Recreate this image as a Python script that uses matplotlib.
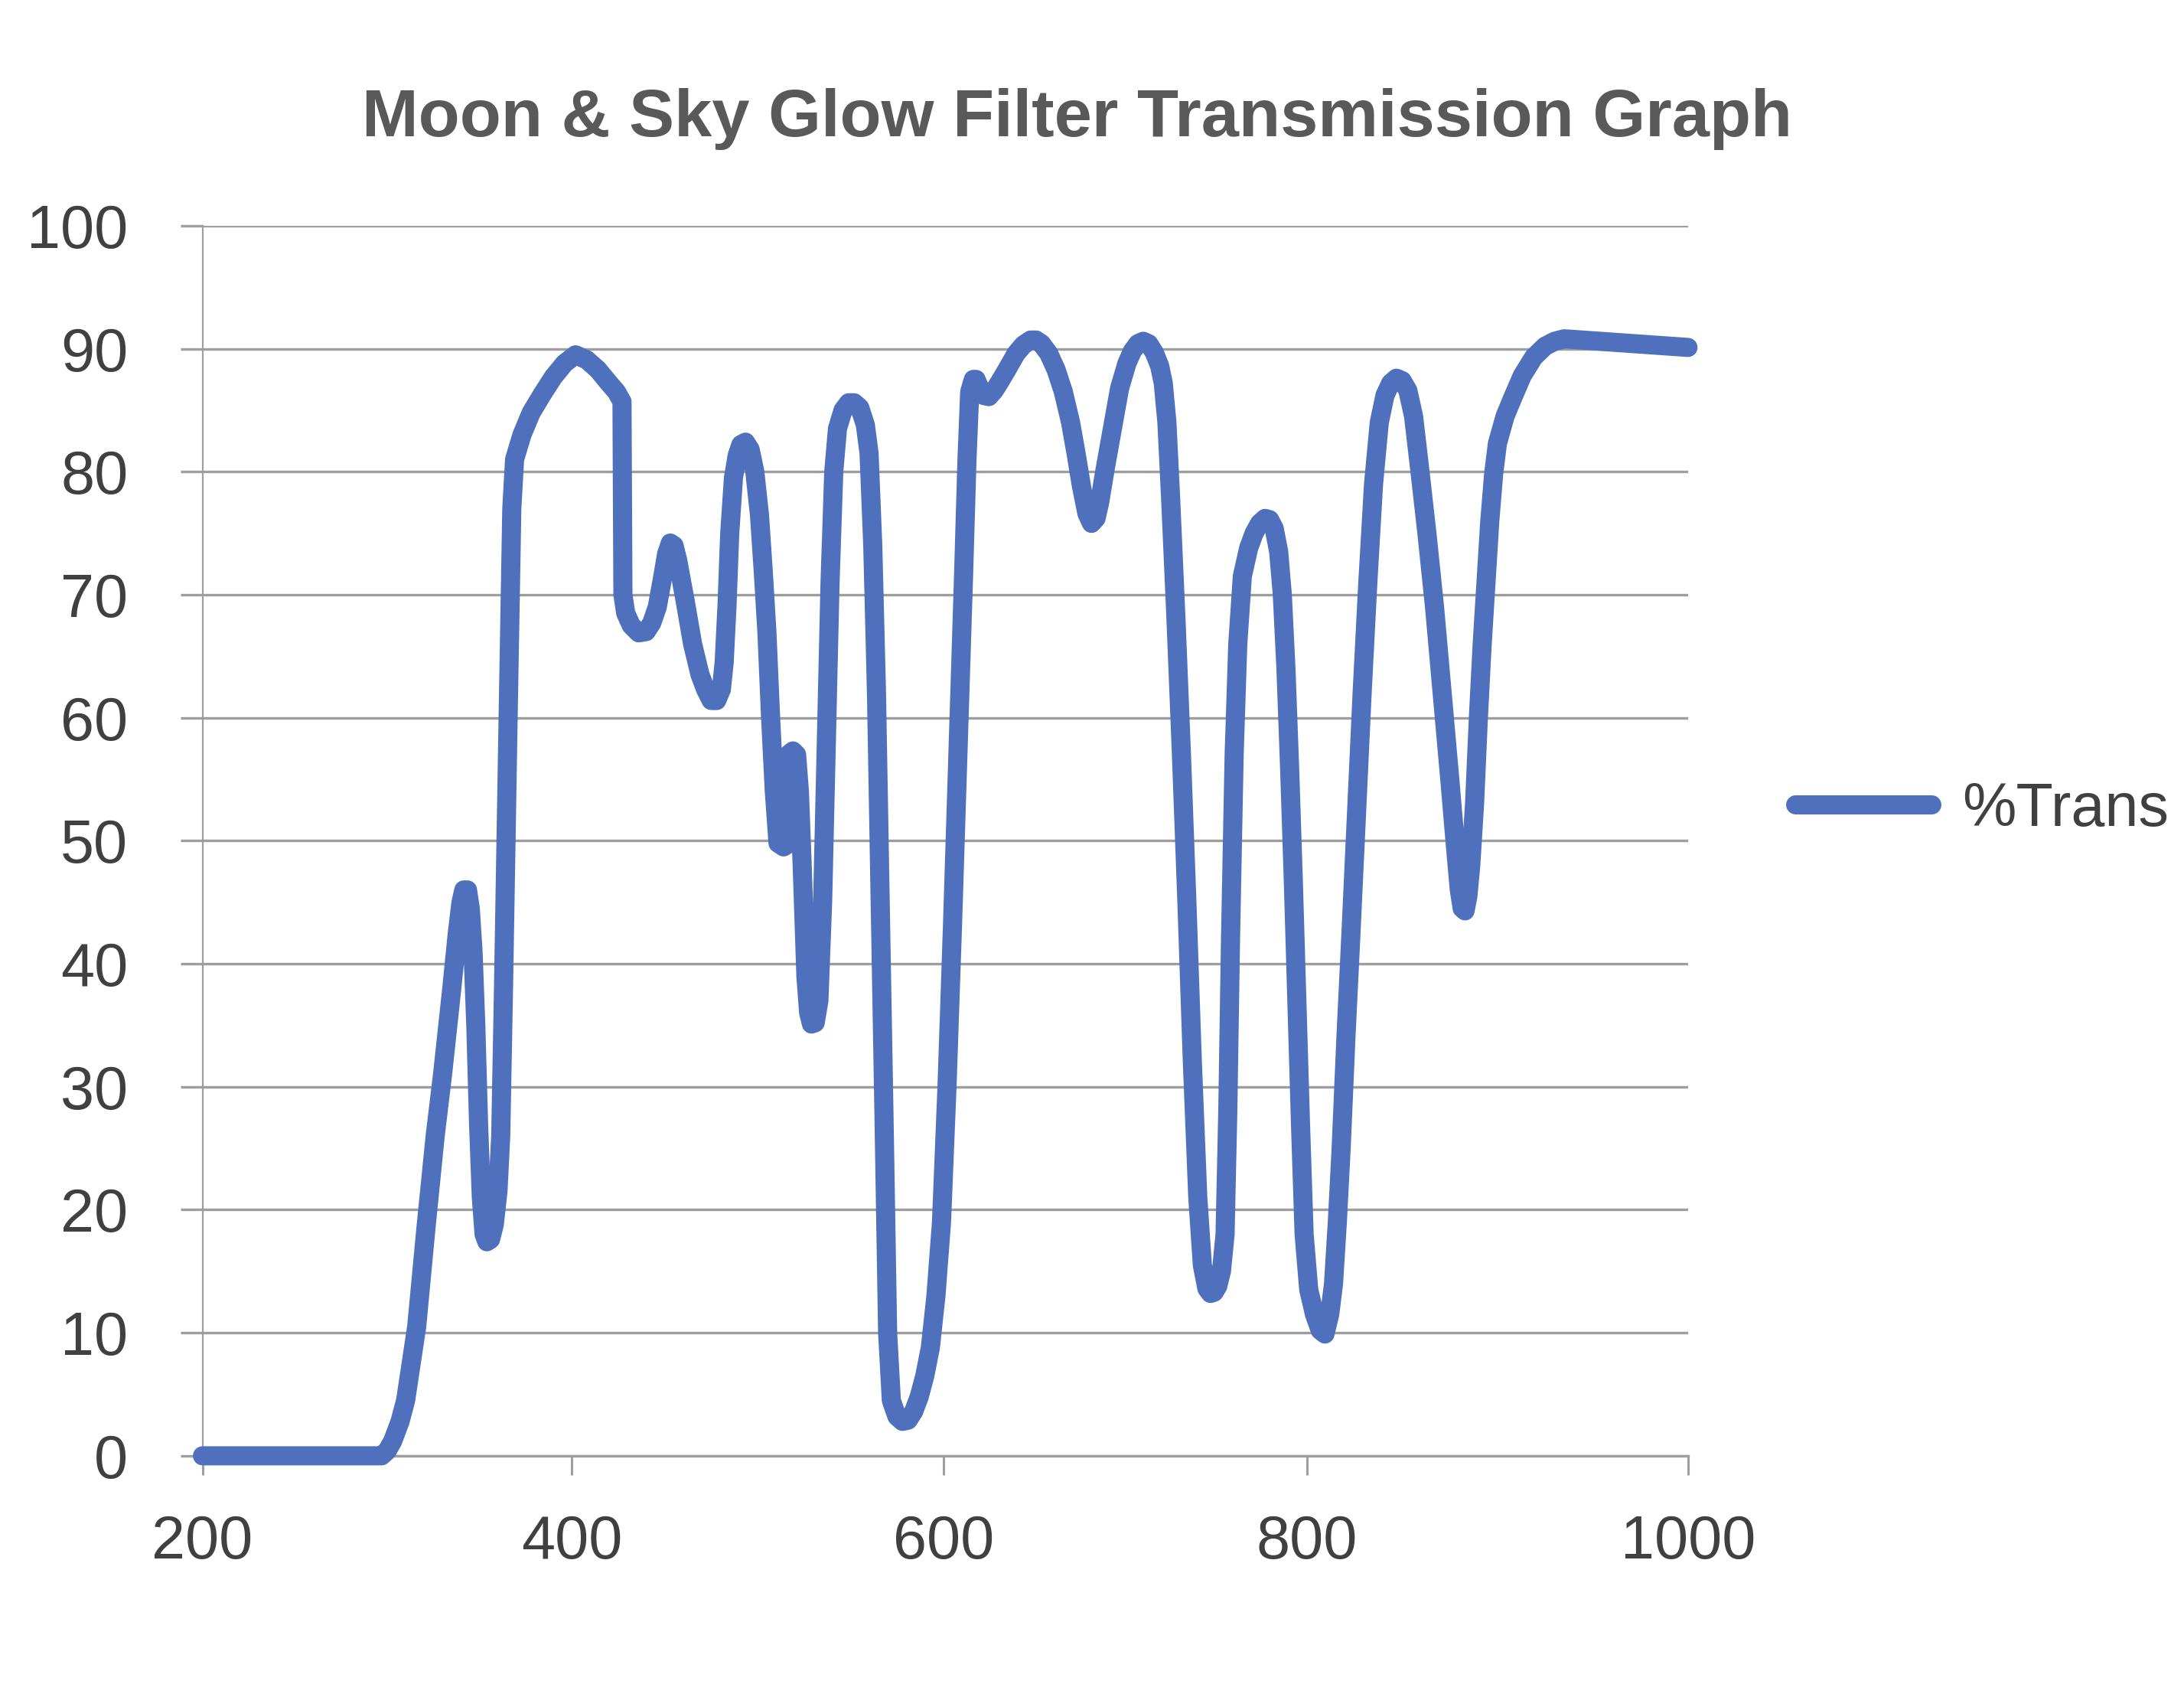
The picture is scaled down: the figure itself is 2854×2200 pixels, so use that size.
import numpy as np
import matplotlib
matplotlib.use("Agg")
import matplotlib.pyplot as plt

# ---- data (wavelength nm, % transmission) ---------------------------------
wavelength = [200, 297, 300, 303, 307, 310, 313, 316, 321, 326, 330, 335,
              338, 340, 341.5, 343.5, 345, 346.5, 348, 349.5, 351, 352.5, 354,
              356, 358, 360, 361.5, 363, 365.5, 367.5, 369, 373, 378, 384,
              390, 396, 402, 408, 414, 420, 424, 427, 427.5, 429, 432, 436,
              440, 443, 446, 449, 451, 453, 455, 457, 461, 465, 469, 472, 475,
              478, 480.5, 482, 483.5, 485, 487, 489, 491, 493.5, 496, 498.5,
              501, 503, 505, 507, 509, 511, 514, 516, 516.5, 519, 521, 522.5,
              524, 526, 527.5, 529, 531, 533, 535, 537, 539, 541, 543, 546,
              549, 552, 555, 558, 560, 562, 564, 566, 568, 570, 572, 575, 578,
              581, 584, 587, 590, 593, 596, 599, 602, 605, 608, 611, 613,
              614.5, 616.5, 618, 620, 622, 625, 628, 631, 635, 640, 644, 648,
              651, 654, 658, 662, 666, 670, 673, 676, 679, 681.5, 684, 686,
              689, 693, 697, 701, 704, 707, 710, 713, 716, 719, 721, 723, 725,
              728, 731, 734, 737, 740, 742.5, 745, 747, 749, 751, 753, 755,
              756.5, 758, 760, 762, 764.5, 768, 771, 774, 777, 779.5, 782,
              784.5, 786.5, 788.5, 790.5, 792.5, 794.5, 796.5, 798.5, 801, 804,
              807, 809.5, 812, 814, 816, 818, 820.5, 823, 826, 829, 832, 835,
              838, 841, 844, 847, 850, 853, 856, 859, 863, 867, 871, 875, 878,
              880, 881.5, 883, 884.5, 886, 888, 890, 892, 894, 896, 898, 900,
              904, 908, 913, 919, 925, 930, 935, 940, 1000]
transmission = [0, 0, 0.4, 1.2, 2.8, 4.5, 7.5, 10.5, 18.5, 26, 31, 38,
                42.5, 45, 46, 46, 44.5, 41, 35, 27, 21, 18, 17.4,
                17.6, 18.8, 21.5, 26, 38, 60, 77, 81, 83, 84.8, 86.3,
                87.7, 88.8, 89.5, 89.1, 88.3, 87.2, 86.5, 85.7, 70, 68.5, 67.5, 66.9,
                67, 67.7, 69, 71.5, 73.3, 74.2, 74, 72.8, 69.5, 66, 63.5, 62.3, 61.4,
                61.4, 62.3, 64.5, 69, 75, 79.5, 81.3, 82.2, 82.4, 81.8, 80,
                76.5, 72, 67, 60, 54, 49.8, 49.5, 49.7, 57, 57.3, 57, 54,
                48, 39, 36, 35.1, 35.2, 37, 45, 58, 71, 80, 83.5, 85,
                85.6, 85.6, 85.2, 83.8, 81.5, 74, 62, 45, 28, 10, 4.5, 3.2, 2.8,
                2.9, 3.6, 4.8, 6.5, 8.8, 13, 19, 30, 43, 57, 71, 81,
                86.5, 87.5, 87.5, 86.8, 86.2, 86.1, 86.6, 87.3, 88.3, 89.6, 90.3, 90.7,
                90.7, 90.4, 89.6, 88.3, 86.5, 84, 81.5, 78.8, 76.6, 75.8, 76.2, 77.5,
                80.2, 83.5, 86.8, 88.8, 89.8, 90.4, 90.6, 90.4, 89.7, 88.6, 87.2, 84, 78,
                68, 57, 45, 32, 21, 15.5, 13.6, 13.2, 13.3, 13.8, 15, 18,
                28, 42, 57, 66, 71.5, 73.8, 75, 75.8, 76.2, 76.1, 75.4,
                73.5, 70, 64, 56, 47, 37, 27, 18, 13.5, 11.5,
                10.2, 9.9, 11.5, 14, 19, 25, 34, 42, 52, 62, 71, 79,
                84, 86.2, 87.2, 87.6, 87.4, 86.6, 84.5, 80.5, 75, 69, 62, 55, 49.5,
                46, 44.5, 44.3, 45.5, 48, 53, 60, 66, 71, 76, 79.8, 82.3,
                84.5, 86, 87.8, 89.3, 90.2, 90.6, 90.8, 90.75, 90.1]
x_ticks = [200, 400, 600, 800, 1000]
y_ticks = [0, 10, 20, 30, 40, 50, 60, 70, 80, 90, 100]
title = "Moon & Sky Glow Filter Transmission Graph"
series_name = "%Trans"

# the source chart's x ticks are not evenly spaced; fraction of axis width
tick_frac = np.array([0.0, 482.7, 968.2, 1443.2, 1941.3]) / 1941.3

LINE = "#4E70BD"
GRID = "#9E9E9E"
TEXT = "#404040"

plt.rcParams["font.family"] = ["Liberation Sans", "DejaVu Sans"]

fig = plt.figure(figsize=(28.54, 22), dpi=100)
ax = fig.add_axes([0.0927, 0.1355, 0.6802, 0.7305])

fwd = lambda v: np.interp(v, x_ticks, tick_frac)
inv = lambda p: np.interp(p, tick_frac, x_ticks)
ax.set_xscale("function", functions=(fwd, inv))

ax.plot(wavelength, transmission, color=LINE, lw=18, label=series_name,
        solid_capstyle="round", solid_joinstyle="round", zorder=3,
        clip_on=False)

ax.set_xlim(200, 1000)
ax.set_ylim(0, 100)
ax.set_xticks(x_ticks)
ax.set_xticklabels([str(t) for t in x_ticks])
ax.set_yticks(y_ticks)
ax.set_yticklabels([str(t) for t in y_ticks])
ax.xaxis.set_minor_locator(matplotlib.ticker.NullLocator())
ax.yaxis.grid(True, color=GRID, lw=2.4)
ax.set_axisbelow(True)

for s in ["top", "right"]:
    ax.spines[s].set_visible(False)
ax.spines["left"].set_color(GRID)
ax.spines["left"].set_linewidth(1.6)
ax.spines["bottom"].set_color(GRID)
ax.spines["bottom"].set_linewidth(2.4)

ax.tick_params(axis="y", length=21, width=2.4, color=GRID, pad=49,
               labelsize=57, labelcolor=TEXT)
ax.tick_params(axis="x", length=18, width=2.2, color=GRID, pad=37,
               labelsize=57, labelcolor=TEXT)

fig.text(0.493, 0.919, title, ha="center", va="baseline", fontsize=63.7,
         fontweight="bold", color="#595959")

fig.legend(loc="center left", bbox_to_anchor=(0.822, 0.519), frameon=False,
           fontsize=57, handlelength=2.25, handletextpad=0.5, borderpad=0,
           borderaxespad=0, labelcolor=TEXT)

fig.savefig("out.png", dpi=100, facecolor="white")
